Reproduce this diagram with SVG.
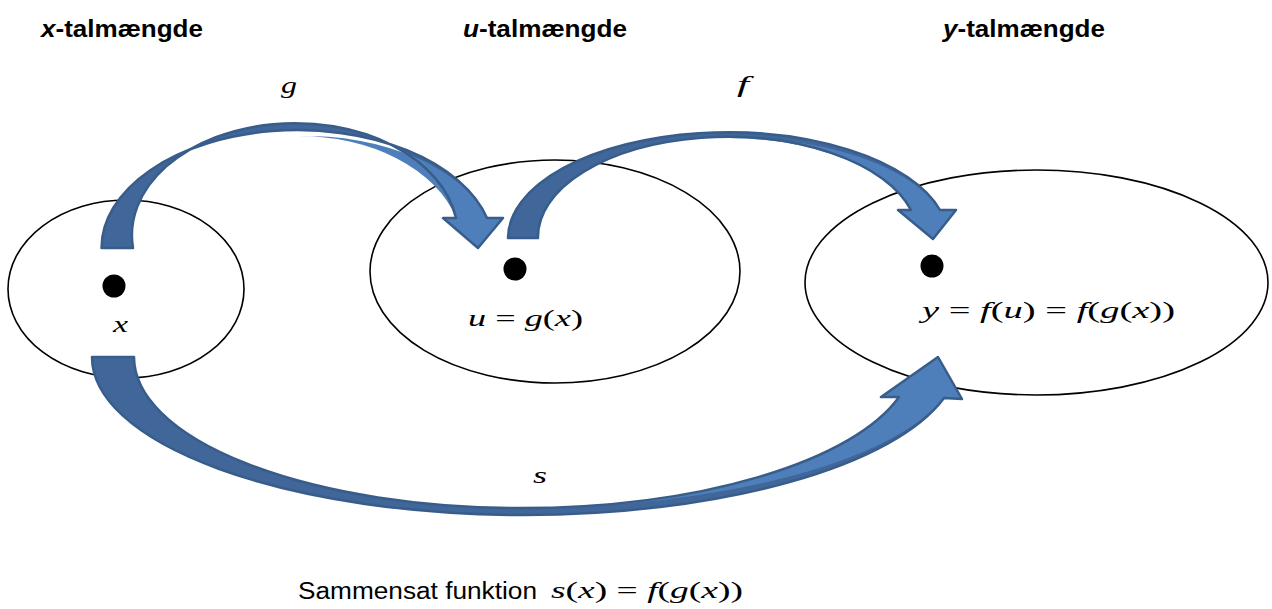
<svg xmlns="http://www.w3.org/2000/svg" width="1272" height="609" viewBox="0 0 1272 609">
<style>
.set{fill:#fff;stroke:#000;stroke-width:1.6}
.dot{fill:#000}
.hd{font-family:"Liberation Sans",Arial,sans-serif;font-weight:bold;font-size:23px;fill:#000}
.m{font-family:"Liberation Serif","Times New Roman",serif;font-size:24px;fill:#000}
.i{font-style:italic}
.t{font-family:"Liberation Sans",Arial,sans-serif;font-size:23px;fill:#000}
.dark{fill:#40669a}
.light{fill:#4e7fbb}
.edge{fill:none;stroke:#385d8a;stroke-width:2.5;stroke-linejoin:round}
</style>
<defs>
<path id="gOut" d="M101.5 248 A196 118 0 0 1 487 218 L503 218 L478 248 L443 218 L456 218 A163 112 0 0 0 133 248 Z"/>
<path id="fOut" d="M508 238 A220 106 0 0 1 940 210 L956 210 L933 239 L898 210 L911 210 A190 100 0 0 0 538 238 Z"/>
<path id="sOut" d="M92 357 A432 158 0 0 0 524 515 A435 158 0 0 0 944 398 L962 399 L938 357 L881 397 L899 397 A393 151 0 0 1 520 508 A386 151 0 0 1 134 357 Z"/>
</defs>

<g id="headers">
<text class="hd" x="41" y="37" textLength="162" lengthAdjust="spacingAndGlyphs"><tspan font-style="italic">x</tspan>-talmængde</text>
<text class="hd" x="463" y="37" textLength="164" lengthAdjust="spacingAndGlyphs"><tspan font-style="italic">u</tspan>-talmængde</text>
<text class="hd" x="943" y="37" textLength="162" lengthAdjust="spacingAndGlyphs"><tspan font-style="italic">y</tspan>-talmængde</text>
</g>

<g id="set-x">
<ellipse class="set" cx="126" cy="289" rx="118" ry="89"/>
<circle class="dot" cx="114" cy="286" r="11.5"/>
<text class="m i" x="113" y="332" textLength="15" lengthAdjust="spacingAndGlyphs">x</text>
</g>

<g id="set-u">
<ellipse class="set" cx="555" cy="271.5" rx="185" ry="111.5"/>
<circle class="dot" cx="515" cy="269" r="11.5"/>
<text class="m" x="468" y="326" textLength="115" lengthAdjust="spacingAndGlyphs"><tspan class="i">u</tspan> = <tspan class="i">g</tspan>(<tspan class="i">x</tspan>)</text>
</g>

<g id="set-y">
<ellipse class="set" cx="1036.5" cy="282.5" rx="231.5" ry="112.5"/>
<circle class="dot" cx="932" cy="266" r="11.5"/>
<text class="m" x="922" y="318" textLength="253" lengthAdjust="spacingAndGlyphs"><tspan class="i">y</tspan> = <tspan class="i">f</tspan>(<tspan class="i">u</tspan>) = <tspan class="i">f</tspan>(<tspan class="i">g</tspan>(<tspan class="i">x</tspan>))</text>
</g>

<g id="connectors">
<g id="arrow-g">
<use href="#gOut" class="dark"/>
<path class="light" d="M297 136 A190 114 0 0 1 487 218 L503 218 L478 248 L443 218 L456 218 A163 112 0 0 0 297 136 Z"/>
<use href="#gOut" class="edge"/>
</g>
<g id="arrow-f">
<use href="#fOut" class="dark"/>
<path class="light" d="M728 138 A214 104 0 0 1 940 210 L956 210 L933 239 L898 210 L911 210 A190 100 0 0 0 728 138 Z"/>
<use href="#fOut" class="edge"/>
</g>
<g id="arrow-s">
<use href="#sOut" class="dark"/>
<path class="light" d="M520 508 A440 151 0 0 0 944 398 L962 399 L938 357 L881 397 L899 397 A393 151 0 0 1 520 508 Z"/>
<use href="#sOut" class="edge"/>
</g>
</g>

<g id="labels">
<text class="m i" x="281" y="93" textLength="16" lengthAdjust="spacingAndGlyphs">g</text>
<text class="m i" x="737" y="92" textLength="12" lengthAdjust="spacingAndGlyphs">f</text>
<text class="m i" x="533" y="483" textLength="14" lengthAdjust="spacingAndGlyphs">s</text>
</g>

<g id="caption">
<text class="t" x="298" y="599" textLength="239" lengthAdjust="spacingAndGlyphs">Sammensat funktion</text>
<text class="m" x="551" y="598" textLength="192" lengthAdjust="spacingAndGlyphs"><tspan class="i">s</tspan>(<tspan class="i">x</tspan>) = <tspan class="i">f</tspan>(<tspan class="i">g</tspan>(<tspan class="i">x</tspan>))</text>
</g>
</svg>
